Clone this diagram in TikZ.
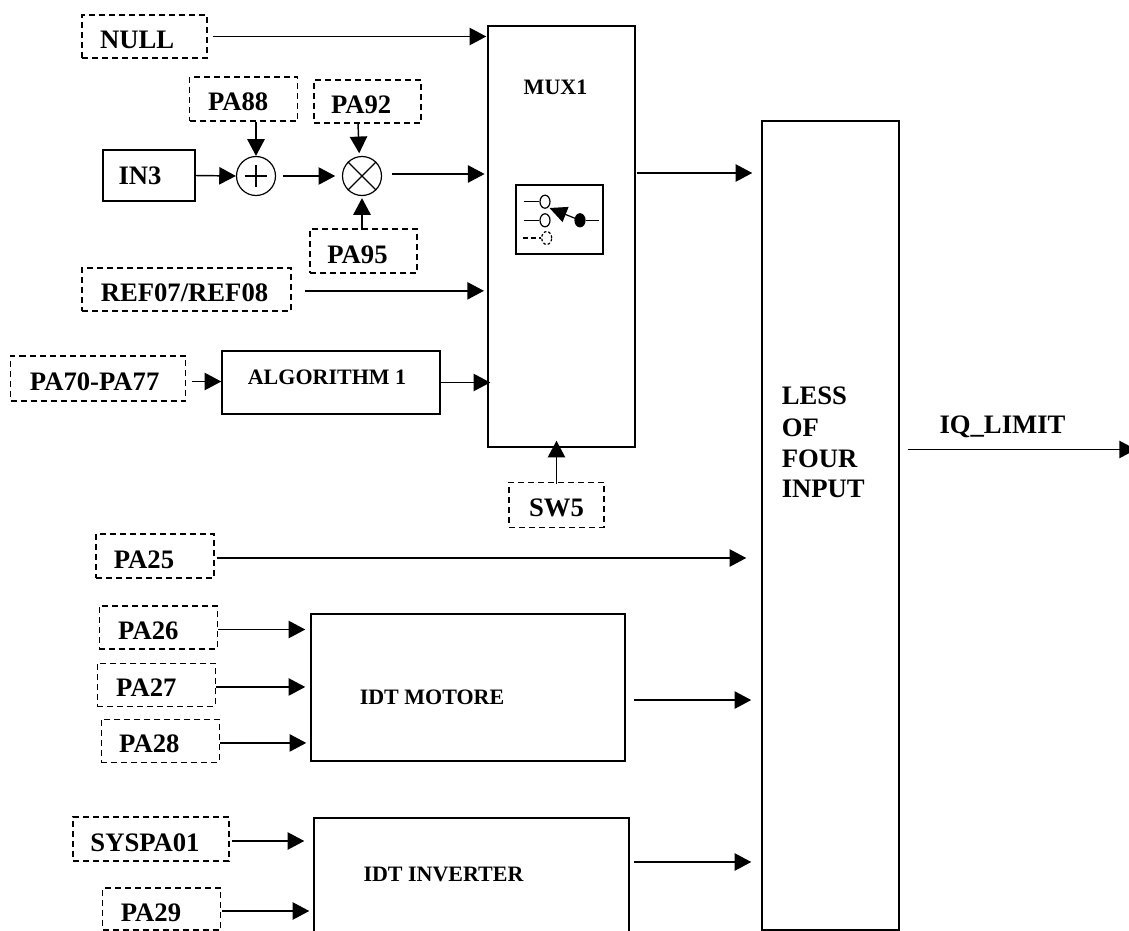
\documentclass[tikz,border=0pt]{standalone}
\usepackage{fontspec}
\setmainfont{Liberation Serif}
\usetikzlibrary{positioning,arrows.meta,calc,shapes.geometric}
\def\px{0.75pt}
\tikzset{
  param/.style={rectangle, draw, dashed, dash pattern=on 4.5pt off 3pt, line width=1.1pt,
                minimum width=118*\px, minimum height=44*\px, inner sep=0pt,
                text height=18pt, text depth=0pt,
                font=\fontsize{20}{24}\selectfont\bfseries},
  nudge/.style={execute at end node={\kern#1pt}},
  block/.style={rectangle, draw, line width=1.1pt, inner sep=0pt},
  lblbig/.style={font=\fontsize{20}{24}\selectfont\bfseries, inner sep=0pt, text depth=0pt},
  lblmid/.style={font=\fontsize{16.5}{20}\selectfont\bfseries, inner sep=0pt},
  junction/.style={circle, draw, line width=0.9pt, minimum size=39*\px, inner sep=0pt},
  contact/.style={ellipse, draw, line width=0.9pt, minimum width=10*\px, minimum height=13*\px, inner sep=0pt},
  flow/.style={-{Triangle[length=12.5pt,width=13pt]}, line width=1.1pt},
}
\newcommand{\Param}[3][]{%
  \node[param,#1] (#2) {#3};}
\newcommand{\Block}[5]{%
  \node[block, minimum width=#3*\px, minimum height=#4*\px] (#1) at (#2) {#5};}
\begin{document}
\begin{tikzpicture}[x=\px,y=-\px]
  \useasboundingbox (0,0) rectangle (1129,931);
  \clip (0,0) rectangle (1129,931);
  % inputs of the selector
  \Param[at={(144.5,36.5)}, minimum width=125*\px, minimum height=43*\px, nudge=11]{null}{NULL}
  \Param[at={(243.5,99)}, minimum width=108*\px, nudge=8]{pa88}{PA88}
  \Param[at={(367.5,101.5)}, minimum width=107*\px, minimum height=43*\px, nudge=9.5]{pa92}{PA92}
  \Param[at={(363.5,251)}, minimum width=107*\px, nudge=9]{pa95}{PA95}
  \Block{in3}{149,175.5}{92}{51}{\fontsize{20}{24}\selectfont\bfseries IN3\kern13.5pt}
  \node[junction] (plus) at (256,176) {};
  \node[junction] (times) at (362,176) {};
  \draw[line width=0.9pt] (times.north west) -- (times.south east)
                          (times.north east) -- (times.south west);
  \draw[line width=0.9pt] ([xshift=-8.5pt]plus.center) -- ([xshift=8.5pt]plus.center)
                          ([yshift=-8.5pt]plus.center) -- ([yshift=8.5pt]plus.center);
  \Param[at={(186.5,289.5)}, minimum width=209*\px, minimum height=43*\px, nudge=3]{ref}{REF07/REF08}
  \Param[at={(98,378.5)}, minimum width=175*\px, minimum height=45*\px, nudge=5]{pa7077}{PA70-PA77}
  \Block{alg}{331,382.5}{218}{63}{}
  \node[lblmid] (alglbl) at (327,377.5) {ALGORITHM 1};
  \Block{mux}{561.5,236.5}{147}{421}{}
  \node[lblmid] (muxlbl) at (555.5,87) {MUX1};
  \Param[minimum width=95*\px, minimum height=45*\px, below=34*\px of mux, xshift=-5*\px]{sw5}{SW5}
  % selector symbol
  \Block{switch}{559.5,219.5}{87}{69}{}
  \node[contact] (con1) at (545,201.7) {};
  \node[contact] (con2) at (545,220.3) {};
  \node[contact, dashed, dash pattern=on 2pt off 1.5pt] (con3) at (546.7,238) {};
  \node[contact, fill=black, minimum width=10*\px, minimum height=13*\px] (dot) at (580,220.3) {};
  \coordinate (cs1) at (523.7,201.7);
  \coordinate (cs2) at (523.7,220.3);
  \coordinate (cs3) at (523,238);
  \coordinate (cs4) at (599,220.3);
  \draw[line width=0.9pt] (cs1) -- (con1) (cs2) -- (con2) (dot) -- (cs4);
  \draw[line width=0.9pt, dashed, dash pattern=on 4pt off 2pt] (cs3) -- (con3);
  \draw[-{Triangle[length=13pt,width=12pt]}, line width=0.9pt] (dot.center) -- ($(con1)!0.5!(con2)+(4.5,-3)$);
  % lower inputs
  \Param[at={(155,556)}, nudge=16.5]{pa25}{PA25}
  \Param[at={(158.3,627.5)}, minimum height=43*\px, nudge=15]{pa26}{PA26}
  \Param[minimum height=43*\px, below=13*\px of pa26, xshift=-2*\px, nudge=15]{pa27}{PA27}
  \Param[minimum height=43*\px, below=11.5*\px of pa27, xshift=4*\px, nudge=16.5]{pa28}{PA28}
  \Block{idtm}{468,687.5}{314}{147}{}
  \node[lblmid] (idtmlbl) at (432,697) {IDT MOTORE};
  \Param[at={(151,839)}, minimum width=156*\px, nudge=9]{syspa}{SYSPA01}
  \Param[at={(161.5,909)}, minimum height=42*\px, nudge=15.75]{pa29}{PA29}
  \Block{idti}{471.5,909}{315}{182}{}
  \node[lblmid] (idtilbl) at (443.5,874) {IDT INVERTER};
  % output block
  \Block{less}{830.5,525.5}{137}{809}{}
  \node[lblbig, anchor=west] (less1) at (781.5,396) {LESS};
  \node[lblbig, anchor=west] (less2) at (781.5,428) {OF};
  \node[lblbig, anchor=west] (less3) at (781.5,459) {FOUR};
  \node[lblbig, anchor=west] (less4) at (781.5,489) {INPUT};
  \node[lblbig] (iqlbl) at (1002.5,425) {IQ\_LIMIT};
  \coordinate (iqend) at (1136,449.5);
  % connectors
  \draw[flow, shorten <=3.75pt, shorten >=0.75pt] (null.east) -- (null.east -| mux.west);
  \draw[flow] (plus |- pa88.south) -- (plus.north);
  \draw[flow, shorten >=2pt] ([xshift=-3pt]times.north |- pa92.south) -- ([xshift=-2pt]times.north);
  \draw[flow, shorten >=1.5pt, shorten <=-1.5pt] (times |- pa95.north) -- (times.south);
  \draw[flow] (in3.east) -- (plus.west);
  \draw[flow, shorten <=5pt, shorten >=5pt] (plus.east) -- (times.west);
  \draw[flow, shorten <=7.5pt, shorten >=2pt] ([yshift=1.5pt]times.east) -- ([yshift=1.5pt]times.east -| mux.west);
  \draw[flow, shorten <=0.75pt, shorten >=6.75pt] ([yshift=2.25pt]times.east -| mux.east) -- ([yshift=2.25pt]times.east -| less.west);
  \draw[flow, shorten <=9.75pt, shorten >=2.5pt] ([yshift=-1pt]ref.east) -- ([yshift=-1pt]ref.east -| mux.west);
  \draw[flow, shorten <=4.5pt] ([yshift=-2.25pt]pa7077.east) -- ([yshift=-2.25pt]pa7077.east -| alg.west);
  \draw[flow, shorten >=-2.25pt] (alg.east) -- (alg.east -| mux.west);
  \draw[flow, shorten <=-1.5pt, shorten >=-5.25pt] (sw5.north) -- (sw5.north |- mux.south);
  \draw[flow, shorten <=1.5pt, shorten >=11.25pt] ([yshift=-1.5pt]pa25.east) -- ([yshift=-1.5pt]pa25.east -| less.west);
  \draw[flow, shorten >=3.75pt] ([yshift=-1.5pt]pa26.east) -- ([yshift=-1.5pt]pa26.east -| idtm.west);
  \draw[flow, shorten >=3.75pt] ([yshift=-1.5pt]pa27.east) -- ([yshift=-1.5pt]pa27.east -| idtm.west);
  \draw[flow, shorten >=3pt] ([yshift=-1.5pt]pa28.east) -- ([yshift=-1.5pt]pa28.east -| idtm.west);
  \draw[flow, shorten <=6pt, shorten >=7.5pt] ([yshift=-9.4pt]idtm.east) -- ([yshift=-9.4pt]idtm.east -| less.west);
  \draw[flow, shorten <=1.5pt, shorten >=6.75pt] ([yshift=-1.5pt]syspa.east) -- ([yshift=-1.5pt]syspa.east -| idti.west);
  \draw[flow, shorten <=0.75pt, shorten >=3pt] ([yshift=-1.5pt]pa29.east) -- ([yshift=-1.5pt]pa29.east -| idti.west);
  \draw[flow, shorten <=3pt, shorten >=7.5pt] ([yshift=35.25pt]idti.east) -- ([yshift=35.25pt]idti.east -| less.west);
  \draw[flow, shorten <=6pt] (less.east |- iqend) -- (iqend);
\end{tikzpicture}
\end{document}
